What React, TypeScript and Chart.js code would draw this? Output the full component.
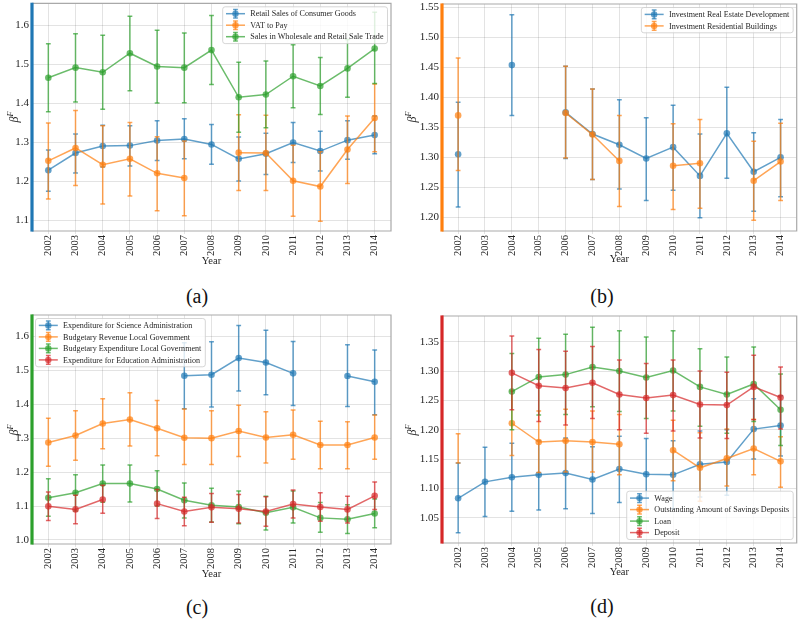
import React, { useEffect, useRef } from 'react';
import { Chart, registerables } from 'chart.js';

Chart.register(...registerables);

// ---------- data ----------
const years = [2002, 2003, 2004, 2005, 2006, 2007, 2008, 2009, 2010, 2011, 2012, 2013, 2014];

// (a)
const retailSales = [1.228, 1.272, 1.290, 1.291, 1.304, 1.308, 1.294, 1.257, 1.270, 1.299, 1.277, 1.305, 1.318];
const retailSalesLo = [1.174, 1.221, 1.236, 1.239, 1.253, 1.257, 1.243, 1.200, 1.217, 1.248, 1.226, 1.256, 1.270];
const retailSalesHi = [1.280, 1.321, 1.343, 1.342, 1.355, 1.360, 1.345, 1.313, 1.323, 1.350, 1.328, 1.355, 1.367];
const vatToPay = [1.252, 1.285, 1.242, 1.257, 1.220, 1.208, null, 1.273, 1.272, 1.201, 1.186, 1.281, 1.362];
const vatToPayLo = [1.154, 1.189, 1.141, 1.162, 1.124, 1.111, null, 1.176, 1.176, 1.110, 1.097, 1.194, 1.275];
const vatToPayHi = [1.349, 1.381, 1.342, 1.350, 1.314, 1.303, null, 1.370, 1.369, 1.292, 1.275, 1.367, 1.449];
const wholesale = [1.465, 1.491, 1.479, 1.528, 1.494, 1.491, 1.536, 1.415, 1.422, 1.469, 1.444, 1.489, 1.540];
const wholesaleLo = [1.378, 1.403, 1.384, 1.432, 1.400, 1.401, 1.448, 1.325, 1.337, 1.388, 1.371, 1.415, 1.450];
const wholesaleHi = [1.552, 1.578, 1.574, 1.623, 1.587, 1.580, 1.625, 1.505, 1.508, 1.550, 1.517, 1.563, 1.633];

// (b)
const realEstate = [1.305, null, 1.454, null, 1.375, 1.339, 1.321, 1.298, 1.317, 1.269, 1.340, 1.276, 1.300];
const realEstateLo = [1.217, null, 1.370, null, 1.298, 1.263, 1.247, 1.228, 1.245, 1.199, 1.265, 1.210, 1.234];
const realEstateHi = [1.392, null, 1.538, null, 1.452, 1.414, 1.396, 1.366, 1.387, 1.339, 1.417, 1.341, 1.363];
const residential = [1.370, null, null, null, 1.374, 1.338, 1.294, null, 1.286, 1.290, null, 1.261, 1.293];
const residentialLo = [1.278, null, null, null, 1.299, 1.263, 1.218, null, 1.213, 1.215, null, 1.195, 1.228];
const residentialHi = [1.466, null, null, null, 1.452, 1.414, 1.370, null, 1.356, 1.363, null, 1.327, 1.357];

// (c)
const science = [null, null, null, null, null, 1.484, 1.487, 1.536, 1.523, 1.491, null, 1.483, 1.466];
const scienceLo = [null, null, null, null, null, 1.387, 1.392, 1.439, 1.428, 1.396, null, 1.393, 1.369];
const scienceHi = [null, null, null, null, null, 1.581, 1.584, 1.632, 1.618, 1.585, null, 1.575, 1.560];
const revenue = [1.287, 1.308, 1.343, 1.355, 1.329, 1.301, 1.300, 1.321, 1.302, 1.310, 1.280, 1.280, 1.302];
const revenueLo = [1.217, 1.235, 1.269, 1.277, 1.248, 1.222, 1.222, 1.246, 1.227, 1.238, 1.210, 1.210, 1.238];
const revenueHi = [1.359, 1.381, 1.416, 1.434, 1.411, 1.386, 1.381, 1.397, 1.378, 1.383, 1.350, 1.348, 1.368];
const expenditure = [1.124, 1.139, 1.166, 1.166, 1.150, 1.117, 1.102, 1.097, 1.080, 1.096, 1.065, 1.061, 1.078];
const expenditureLo = [1.070, 1.085, 1.111, 1.112, 1.100, 1.065, 1.053, 1.048, 1.029, 1.050, 1.023, 1.019, 1.036];
const expenditureHi = [1.180, 1.192, 1.221, 1.221, 1.204, 1.168, 1.152, 1.144, 1.129, 1.144, 1.110, 1.104, 1.121];
const education = [1.099, 1.090, 1.119, null, 1.107, 1.084, 1.096, 1.092, 1.084, 1.106, 1.097, 1.090, 1.130];
const educationLo = [1.057, 1.048, 1.079, null, 1.063, 1.042, 1.052, 1.050, 1.040, 1.065, 1.055, 1.050, 1.090];
const educationHi = [1.141, 1.132, 1.161, null, 1.149, 1.126, 1.137, 1.134, 1.127, 1.147, 1.139, 1.129, 1.171];

// (d)
const wage = [1.083, 1.111, 1.119, 1.123, 1.126, 1.115, 1.133, 1.124, 1.123, 1.141, 1.145, 1.201, 1.207];
const wageLo = [1.024, 1.052, 1.061, 1.063, 1.065, 1.057, 1.076, 1.064, 1.065, 1.085, 1.088, 1.150, 1.155];
const wageHi = [1.143, 1.170, 1.177, 1.181, 1.186, 1.171, 1.189, 1.185, 1.181, 1.198, 1.200, 1.253, 1.258];
const savings = [null, null, 1.211, 1.179, 1.181, 1.179, 1.175, null, 1.165, 1.135, 1.151, 1.168, 1.146];
const savingsLo = [1.143, null, 1.156, 1.127, 1.128, 1.128, 1.123, null, 1.113, 1.078, 1.104, 1.123, 1.102];
const savingsHi = [1.193, null, 1.266, 1.232, 1.235, 1.232, 1.226, null, 1.216, 1.195, 1.201, 1.218, 1.188];
const loan = [null, null, 1.265, 1.290, 1.294, 1.307, 1.300, 1.289, 1.301, 1.273, 1.260, 1.278, 1.234];
const loanLo = [null, null, 1.200, 1.225, 1.226, 1.239, 1.231, 1.219, 1.232, 1.206, 1.194, 1.214, 1.173];
const loanHi = [null, null, 1.330, 1.356, 1.363, 1.375, 1.369, 1.358, 1.369, 1.338, 1.324, 1.341, 1.295];
const deposit = [null, null, 1.297, 1.275, 1.271, 1.280, 1.260, 1.254, 1.259, 1.243, 1.242, 1.273, 1.255];
const depositLo = [null, null, 1.234, 1.214, 1.208, 1.219, 1.200, 1.194, 1.198, 1.186, 1.185, 1.217, 1.201];
const depositHi = [null, null, 1.360, 1.337, 1.334, 1.342, 1.319, 1.313, 1.319, 1.300, 1.298, 1.327, 1.307];

const ticksA = [1.1, 1.2, 1.3, 1.4, 1.5, 1.6];
const ticksB = [1.2, 1.25, 1.3, 1.35, 1.4, 1.45, 1.5, 1.55];
const ticksC = [1.0, 1.1, 1.2, 1.3, 1.4, 1.5, 1.6];
const ticksD = [1.05, 1.1, 1.15, 1.2, 1.25, 1.3, 1.35];

// ---------- style ----------
const BLUE = '31,119,180';
const ORANGE = '255,127,14';
const GREEN = '44,160,44';
const RED = '214,39,40';
const FONT = '"Liberation Serif", "Times New Roman", serif';
const TEXT = '#262626';
const rgba = (c: string, a: number) => `rgba(${c},${a})`;

type Series = { label: string; color: string; values: (number | null)[]; lo: (number | null)[]; hi: (number | null)[] };
type PanelCfg = {
  left: number; top: number; yAxisW: number; padRight: number; padTop: number; xAxisH: number;
  yMin: number; yMax: number; yTicks: number[]; decimals: number; titlePad: number;
  spine: string; legend: 'ur' | 'ul' | 'lr'; series: Series[];
};

const decorPlugin = {
  id: 'decor',
  beforeDatasetDraw(chart: any, args: any) {
    const ds = chart.data.datasets[args.index];
    const xs = chart.scales.x;
    const ys = chart.scales.y;
    const ctx = chart.ctx;
    const a = chart.chartArea;
    ctx.save();
    ctx.beginPath();
    ctx.rect(a.left, a.top, a.right - a.left, a.bottom - a.top);
    ctx.clip();
    ctx.strokeStyle = ds.borderColor;
    ctx.lineWidth = 1.5;
    ds.data.forEach((p: any, j: number) => {
      const lo = ds.errLo[j];
      const hi = ds.errHi[j];
      if (lo == null || hi == null) return;
      const x = xs.getPixelForValue(p.x);
      const y1 = ys.getPixelForValue(lo);
      const y2 = ys.getPixelForValue(hi);
      ctx.beginPath();
      ctx.moveTo(x, y1); ctx.lineTo(x, y2);
      ctx.stroke();
      ctx.beginPath();
      ctx.moveTo(x - 2.4, y1); ctx.lineTo(x + 2.4, y1);
      ctx.moveTo(x - 2.4, y2); ctx.lineTo(x + 2.4, y2);
      ctx.stroke();
    });
    ctx.restore();
  },
  afterDraw(chart: any) {
    const opts = chart.options.plugins.decor;
    const ctx = chart.ctx;
    const a = chart.chartArea;
    ctx.save();
    // frame
    ctx.strokeStyle = '#a9a9a9';
    ctx.lineWidth = 1.2;
    ctx.beginPath();
    ctx.moveTo(a.left, a.top); ctx.lineTo(a.right, a.top); ctx.lineTo(a.right, a.bottom); ctx.lineTo(a.left, a.bottom);
    ctx.stroke();
    ctx.strokeStyle = rgba(opts.spine, 1);
    ctx.lineWidth = 3.2;
    ctx.beginPath();
    ctx.moveTo(a.left, a.top - 0.6); ctx.lineTo(a.left, a.bottom + 0.6);
    ctx.stroke();

    // legend
    const fs = 8.1;
    ctx.font = `${fs}px ${FONT}`;
    const dss = chart.data.datasets;
    const tw = Math.max(...dss.map((d: any) => ctx.measureText(d.label).width));
    const padL = 3.3, handleW = 19, gap = 5.3, padR = 4, padV = 6.9, rowH = 11.5, off = 3.5;
    const w = padL + handleW + gap + tw + padR;
    const h = 2 * padV + (dss.length - 1) * rowH;
    const bx = opts.legend === 'ul' ? a.left + off : a.right - off - w;
    const by = opts.legend === 'lr' ? a.bottom - off - h : a.top + off;
    ctx.beginPath();
    if (ctx.roundRect) ctx.roundRect(bx, by, w, h, 2.5); else ctx.rect(bx, by, w, h);
    ctx.fillStyle = 'rgba(255,255,255,0.8)';
    ctx.fill();
    ctx.strokeStyle = '#cccccc';
    ctx.lineWidth = 0.8;
    ctx.stroke();
    dss.forEach((d: any, i: number) => {
      const cy = by + padV + i * rowH;
      const hx = bx + padL;
      const cx = hx + handleW / 2;
      ctx.strokeStyle = d.borderColor;
      ctx.lineWidth = 1.5;
      ctx.beginPath(); ctx.moveTo(hx, cy); ctx.lineTo(hx + handleW, cy); ctx.stroke();
      ctx.beginPath(); ctx.moveTo(cx, cy - 4.3); ctx.lineTo(cx, cy + 4.3); ctx.stroke();
      ctx.beginPath();
      ctx.moveTo(cx - 2.4, cy - 4.3); ctx.lineTo(cx + 2.4, cy - 4.3);
      ctx.moveTo(cx - 2.4, cy + 4.3); ctx.lineTo(cx + 2.4, cy + 4.3);
      ctx.stroke();
      ctx.fillStyle = d.pointBackgroundColor;
      ctx.beginPath(); ctx.arc(cx, cy, 3.2, 0, Math.PI * 2); ctx.fill();
      ctx.fillStyle = TEXT;
      ctx.textBaseline = 'middle';
      ctx.textAlign = 'left';
      ctx.fillText(d.label, hx + handleW + gap, cy + 0.5);
    });
    ctx.restore();
  },
};

function buildConfig(p: PanelCfg): any {
  return {
    type: 'line',
    data: {
      datasets: p.series.map((s, i) => ({
        label: s.label,
        data: years.map((yr, j) => ({ x: yr, y: s.values[j] })),
        errLo: s.lo,
        errHi: s.hi,
        borderColor: rgba(s.color, 0.7),
        backgroundColor: rgba(s.color, 0.7),
        pointBackgroundColor: rgba(s.color, 0.7),
        pointBorderColor: rgba(s.color, 0),
        pointBorderWidth: 0,
        pointRadius: 3.3,
        pointHoverRadius: 3.3,
        borderWidth: 1.5,
        tension: 0,
        spanGaps: false,
        fill: false,
        order: -i,
      })),
    },
    options: {
      animation: false,
      responsive: false,
      events: [],
      layout: { padding: { left: 0, right: p.padRight, top: p.padTop, bottom: 0 } },
      plugins: {
        legend: { display: false },
        tooltip: { enabled: false },
        decor: { spine: p.spine, legend: p.legend },
      },
      scales: {
        x: {
          type: 'linear',
          bounds: 'data',
          min: years[0] - 0.6,
          max: years[years.length - 1] + 0.6,
          afterBuildTicks: (scale: any) => { scale.ticks = years.map((v) => ({ value: v })); },
          afterFit: (scale: any) => {
            scale.height = p.xAxisH;
            scale.paddingLeft = 0; scale.paddingRight = 0; scale.paddingTop = 0; scale.paddingBottom = 0;
          },
          grid: { color: 'rgba(0,0,0,0.11)', lineWidth: 1, drawTicks: true, tickLength: 3 },
          border: { display: false },
          ticks: {
            autoSkip: false, maxRotation: 90, minRotation: 90, padding: 1,
            color: TEXT, font: { family: FONT, size: 10.5 },
            callback: (v: any) => String(v),
          },
          title: {
            display: true, text: 'Year', color: TEXT,
            font: { family: FONT, size: 10.5 },
            padding: { top: 0, bottom: p.titlePad },
          },
        },
        y: {
          type: 'linear',
          bounds: 'data',
          min: p.yMin,
          max: p.yMax,
          afterBuildTicks: (scale: any) => { scale.ticks = p.yTicks.map((v) => ({ value: v })); },
          afterFit: (scale: any) => {
            scale.width = p.yAxisW;
            scale.paddingLeft = 0; scale.paddingRight = 0; scale.paddingTop = 0; scale.paddingBottom = 0;
          },
          grid: { color: 'rgba(0,0,0,0.11)', lineWidth: 1, drawTicks: false },
          border: { display: false },
          ticks: {
            padding: 3, color: TEXT, font: { family: FONT, size: 11 },
            callback: (v: any) => Number(v).toFixed(p.decimals),
          },
        },
      },
    },
    plugins: [decorPlugin],
  };
}

const panels: PanelCfg[] = [
  {
    left: 0, top: 0, yAxisW: 32, padRight: 9, padTop: 3, xAxisH: 49,
    yMin: 1.072, yMax: 1.656, yTicks: ticksA, decimals: 1, titlePad: 12, spine: BLUE, legend: 'ur',
    series: [
      { label: 'Retail Sales of Consumer Goods', color: BLUE, values: retailSales, lo: retailSalesLo, hi: retailSalesHi },
      { label: 'VAT to Pay', color: ORANGE, values: vatToPay, lo: vatToPayLo, hi: vatToPayHi },
      { label: 'Sales in Wholesale and Retail Sale Trade', color: GREEN, values: wholesale, lo: wholesaleLo, hi: wholesaleHi },
    ],
  },
  {
    left: 400, top: 0, yAxisW: 42, padRight: 3, padTop: 4, xAxisH: 49,
    yMin: 1.177, yMax: 1.556, yTicks: ticksB, decimals: 2, titlePad: 14.5, spine: ORANGE, legend: 'ur',
    series: [
      { label: 'Investment Real Estate Development', color: BLUE, values: realEstate, lo: realEstateLo, hi: realEstateHi },
      { label: 'Investment Residential Buildings', color: ORANGE, values: residential, lo: residentialLo, hi: residentialHi },
    ],
  },
  {
    left: 0, top: 310, yAxisW: 32, padRight: 9, padTop: 5, xAxisH: 46,
    yMin: 0.988, yMax: 1.663, yTicks: ticksC, decimals: 1, titlePad: 9.5, spine: GREEN, legend: 'ul',
    series: [
      { label: 'Expenditure for Science Administration', color: BLUE, values: science, lo: scienceLo, hi: scienceHi },
      { label: 'Budgetary Revenue Local Government', color: ORANGE, values: revenue, lo: revenueLo, hi: revenueHi },
      { label: 'Budgetary Expenditure Local Government', color: GREEN, values: expenditure, lo: expenditureLo, hi: expenditureHi },
      { label: 'Expenditure for Education Administration', color: RED, values: education, lo: educationLo, hi: educationHi },
    ],
  },
  {
    left: 400, top: 310, yAxisW: 42, padRight: 3, padTop: 6, xAxisH: 47,
    yMin: 1.0067, yMax: 1.394, yTicks: ticksD, decimals: 2, titlePad: 11.5, spine: RED, legend: 'lr',
    series: [
      { label: 'Wage', color: BLUE, values: wage, lo: wageLo, hi: wageHi },
      { label: 'Outstanding Amount of Savings Deposits', color: ORANGE, values: savings, lo: savingsLo, hi: savingsHi },
      { label: 'Loan', color: GREEN, values: loan, lo: loanLo, hi: loanHi },
      { label: 'Deposit', color: RED, values: deposit, lo: depositLo, hi: depositHi },
    ],
  },
];

const captions = [
  { text: '(a)', x: 197, y: 296 },
  { text: '(b)', x: 602, y: 296 },
  { text: '(c)', x: 197, y: 607 },
  { text: '(d)', x: 602, y: 606 },
];

const yLabels = [
  { x: 14, y: 117 },
  { x: 412, y: 117 },
  { x: 14, y: 430 },
  { x: 412, y: 430 },
];

function Panel({ cfg }: { cfg: PanelCfg }) {
  const ref = useRef<HTMLCanvasElement>(null);
  useEffect(() => {
    const chart = new Chart(ref.current as HTMLCanvasElement, buildConfig(cfg));
    return () => chart.destroy();
  }, [cfg]);
  return (
    <canvas
      ref={ref}
      width={400}
      height={280}
      style={{ position: 'absolute', left: cfg.left, top: cfg.top, width: 400, height: 280 }}
    />
  );
}

export default function App() {
  return (
    <div style={{ position: 'absolute', left: 0, top: 0, width: 800, height: 620, background: '#fff', overflow: 'hidden' }}>
      {panels.map((p, i) => (
        <Panel key={i} cfg={p} />
      ))}
      {yLabels.map((l, i) => (
        <div
          key={'yl' + i}
          style={{
            position: 'absolute', left: l.x, top: l.y,
            transform: 'translate(-50%, -50%) rotate(-90deg)',
            fontFamily: FONT, fontStyle: 'italic', fontSize: 12, color: TEXT, lineHeight: 1, whiteSpace: 'nowrap',
          }}
        >
          β<span style={{ fontSize: 8, position: 'relative', top: -5 }}>F</span>
        </div>
      ))}
      {captions.map((c, i) => (
        <div
          key={'cap' + i}
          style={{
            position: 'absolute', left: c.x - 50, top: c.y - 10, width: 100, textAlign: 'center',
            fontFamily: FONT, fontSize: 20, lineHeight: '20px', color: '#111',
          }}
        >
          {c.text}
        </div>
      ))}
    </div>
  );
}
